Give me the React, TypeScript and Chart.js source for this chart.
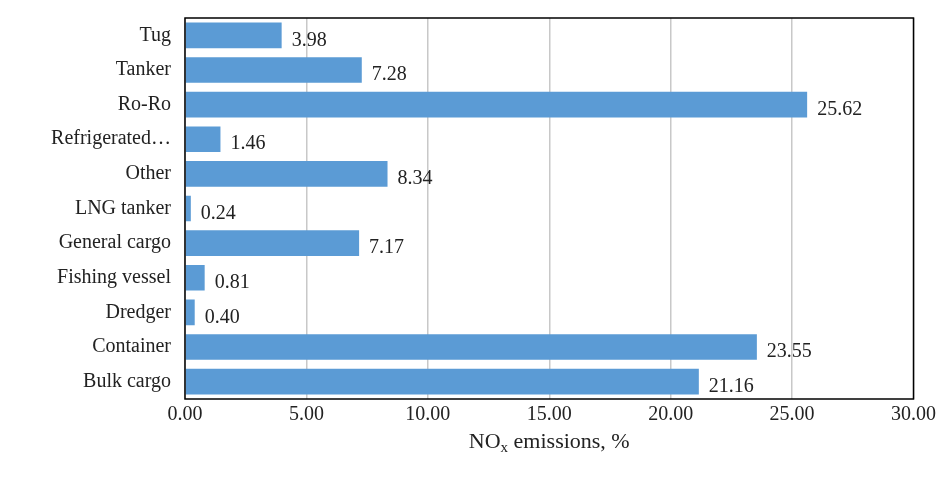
import React, { useEffect, useRef } from 'react';
import Chart from 'chart.js/auto';

const categories = ['Tug', 'Tanker', 'Ro-Ro', 'Refrigerated…', 'Other', 'LNG tanker', 'General cargo', 'Fishing vessel', 'Dredger', 'Container', 'Bulk cargo'];
const values = [3.98, 7.28, 25.62, 1.46, 8.34, 0.24, 7.17, 0.81, 0.4, 23.55, 21.16];

const FONT = '"Liberation Serif", "DejaVu Serif", serif';

const labelPlugin = {
  id: 'valueLabels',
  afterDatasetsDraw(chart: any) {
    const ctx = chart.ctx;
    const meta = chart.getDatasetMeta(0);
    ctx.save();
    ctx.font = `20px ${FONT}`;
    ctx.fillStyle = '#222';
    ctx.textBaseline = 'middle';
    ctx.textAlign = 'left';
    meta.data.forEach((bar: any, i: number) => {
      ctx.fillText(values[i].toFixed(2), bar.x + 10, bar.y + 5);
    });
    // box around plot area
    const a = chart.chartArea;
    ctx.strokeStyle = '#000';
    ctx.lineWidth = 1.5;
    ctx.strokeRect(a.left, a.top, a.right - a.left, a.bottom - a.top);
    // axis title with subscript
    const cx = (a.left + a.right) / 2;
    const y = 448;
    const t1 = 'NO', t3 = ' emissions, %';
    ctx.font = `22px ${FONT}`;
    const w1 = ctx.measureText(t1).width;
    const w3 = ctx.measureText(t3).width;
    ctx.font = `15px ${FONT}`;
    const w2 = ctx.measureText('x').width;
    let x = cx - (w1 + w2 + w3) / 2;
    ctx.textBaseline = 'alphabetic';
    ctx.font = `22px ${FONT}`;
    ctx.fillText(t1, x, y);
    x += w1;
    ctx.font = `15px ${FONT}`;
    ctx.fillText('x', x, y + 4);
    x += w2;
    ctx.font = `22px ${FONT}`;
    ctx.fillText(t3, x, y);
    ctx.restore();
  },
};

const App: React.FC = () => {
  const ref = useRef<HTMLCanvasElement | null>(null);
  useEffect(() => {
    document.body.style.margin = '0';
    if (!ref.current) return;
    const chart = new Chart(ref.current, {
      type: 'bar',
      data: {
        labels: categories,
        datasets: [{ data: values, backgroundColor: '#5B9BD5', barPercentage: 0.74, categoryPercentage: 1 }],
      },
      options: {
        indexAxis: 'y',
        animation: false,
        responsive: false,
        layout: { padding: { top: 0, right: 17, bottom: 62, left: 10 } },
        plugins: { legend: { display: false }, tooltip: { enabled: false } },
        scales: {
          x: {
            min: 0,
            max: 30,
            ticks: { stepSize: 5, callback: (v: any) => Number(v).toFixed(2), font: { family: FONT, size: 20 }, color: '#222', padding: 4 },
            grid: { color: '#c8c8c8', lineWidth: 1.5, drawTicks: false },
            border: { display: false },
          },
          y: {
            afterFit: (s: any) => { s.width = 175; },
            ticks: { font: { family: FONT, size: 20 }, color: '#222', padding: 6 },
            grid: { display: false },
            border: { display: false },
          },
        },
      },
      plugins: [labelPlugin],
    });
    return () => chart.destroy();
  }, []);
  return <canvas ref={ref} width={940} height={493} style={{ display: 'block' }} />;
};

export default App;
